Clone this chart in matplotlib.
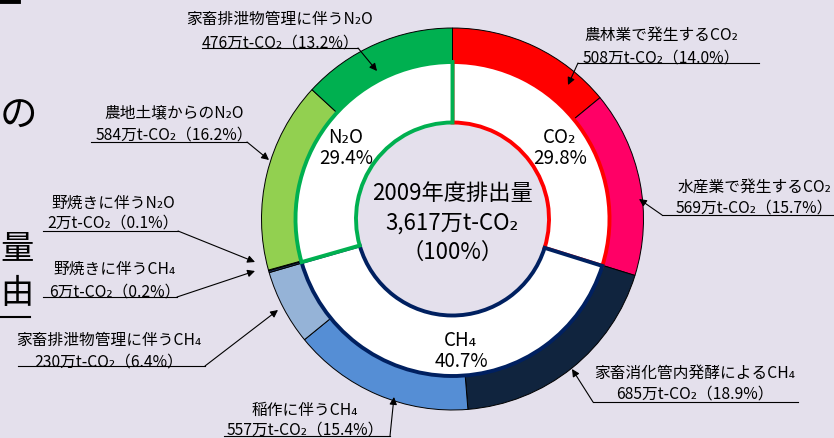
import matplotlib.pyplot as plt

plt.rcParams['font.family'] = ['Noto Sans CJK JP', 'DejaVu Sans']

W, H = 834, 439
BG = '#E4E0EC'

# emissions by source, clockwise from the top (万t-CO2, share %)
sources = ['農林業で発生するCO₂', '水産業で発生するCO₂', '家畜消化管内発酵によるCH₄',
           '稲作に伴うCH₄', '家畜排泄物管理に伴うCH₄', '野焼きに伴うCH₄',
           '野焼きに伴うN₂O', '農地土壌からのN₂O', '家畜排泄物管理に伴うN₂O']
amounts = [508, 569, 685, 557, 230, 6, 2, 584, 476]
shares = [14.0, 15.7, 18.9, 15.4, 6.4, 0.2, 0.1, 16.2, 13.2]
source_colors = ['#FF0000', '#FF0066', '#10243E', '#558ED5', '#95B3D7',
                 '#1F3864', '#F2F2F2', '#92D050', '#00B050']

gases = ['CO₂', 'CH₄', 'N₂O']
gas_shares = [29.8, 40.7, 29.4]
gas_colors = ['#FF0000', '#002060', '#00B050']

year = 2009
total = 3617

# label placement in pixels: x centre, y of both lines, underline x0, x1, y, arrow tip
label_pos = [
    (661, 35, 58, 578, 759, 64, (568, 86)),
    (754, 187, 208, 662, 836, 216, (639, 200)),
    (695, 373, 394, 593, 798, 403, (572, 370)),
    (305, 410, 430, 224, 390, 437, (394, 398)),
    (109, 340, 362, 18, 205, 367, (278, 311)),
    (115, 269, 292, 43, 177, 298, (255, 272)),
    (113, 203, 223, 43, 178, 232, (255, 263)),
    (174, 113, 135, 91, 247, 143, (269, 161)),
    (280, 19, 43, 202, 358, 49, (377, 72)),
]
gas_pos = [(560, 148), (461, 351), (346, 148)]

cx, cy = 452.5, 220
r_out, r_mid, r_in = 191, 157, 96.5

fig = plt.figure(figsize=(W / 100, H / 100), dpi=100, facecolor=BG)
ax = fig.add_axes([0, 0, 1, 1])
ax.set_facecolor(BG)

# y axis is flipped below, so counterclock in data = clockwise on screen
ax.pie(amounts, colors=source_colors, radius=r_out, center=(cx, cy),
       startangle=-90, counterclock=True,
       wedgeprops=dict(width=r_out - r_mid, edgecolor='black', linewidth=0.7))
inner, _ = ax.pie(gas_shares, colors=['white'] * 3, radius=r_mid, center=(cx, cy),
                  startangle=-90, counterclock=True,
                  wedgeprops=dict(width=r_mid - r_in, linewidth=2.8))
for w, c in zip(inner, gas_colors):
    w.set_edgecolor(c)

ax.set_xlim(0, W)
ax.set_ylim(H, 0)
ax.set_aspect('equal')
ax.axis('off')

for g, s, (x, y) in zip(gases, gas_shares, gas_pos):
    ax.text(x, y, f'{g}\n{s}%', ha='center', va='center', fontsize=13.5,
            linespacing=1.05)

ax.text(cx, 194, f'{year}年度排出量', ha='center', va='center', fontsize=16)
ax.text(cx, 223, f'{total // 1000},{total % 1000}万t-CO₂', ha='center', va='center', fontsize=16)
ax.text(cx, 252, '（100%）', ha='center', va='center', fontsize=16)

for name, a, s, (x, y1, y2, u0, u1, uy, tip) in zip(sources, amounts, shares, label_pos):
    ax.text(x, y1, name, ha='center', va='center', fontsize=11.3)
    ax.text(x, y2, f'{a}万t-CO₂（{s}%）', ha='center', va='center', fontsize=11.3)
    ax.plot([u0, u1], [uy, uy], color='black', lw=0.8)
    start = (u0, uy) if tip[0] < u0 else (u1, uy)
    ax.annotate('', xy=tip, xytext=start,
                arrowprops=dict(arrowstyle='-|>', color='black', lw=0.8,
                                mutation_scale=11, shrinkA=0, shrinkB=0))

# pieces of the slide text at the left edge
ax.text(0, 116, 'の', ha='left', va='center', fontsize=27)
ax.text(0, 249, '量', ha='left', va='center', fontsize=24)
ax.text(0, 294, '由', ha='left', va='center', fontsize=24)
ax.plot([0, 30], [318, 318], color='black', lw=1.5)
ax.plot([0, 18], [2, 2], color='black', lw=3.5)

fig.savefig('out.png', dpi=100, facecolor=BG)
